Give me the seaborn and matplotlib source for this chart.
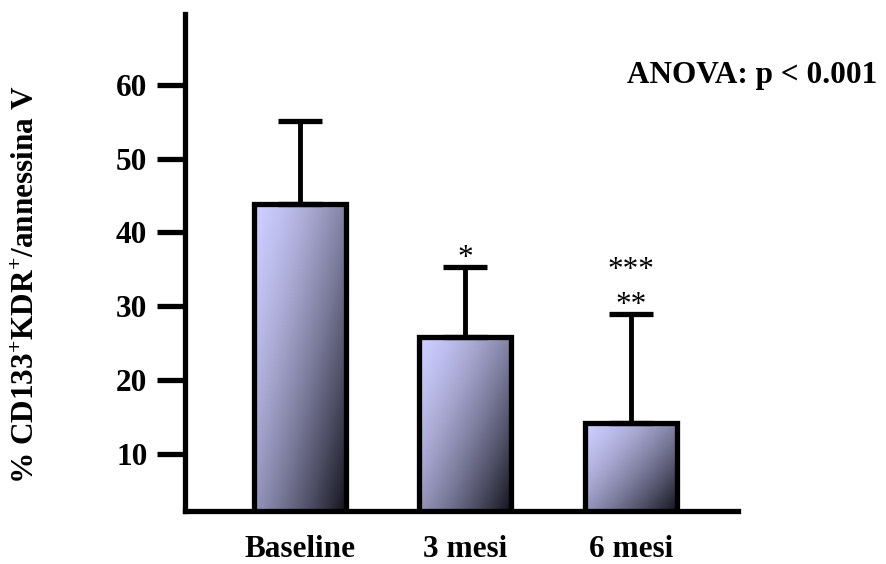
import numpy as np
import pandas as pd
import matplotlib
matplotlib.use("Agg")
import matplotlib.pyplot as plt
import seaborn as sns

# ---- data ----
categories = ["Baseline", "3 mesi", "6 mesi"]
means = [43.8, 25.8, 14.2]
errors_up = [11.3, 9.5, 14.7]
sig_near = ["", "*", "**"]
sig_far = ["", "", "***"]
yticks = [10, 20, 30, 40, 50, 60]
ylabel = "% CD133$^{+}$KDR$^{+}$/annessina V"
anova_text = "ANOVA: p < 0.001"

sns.set_style("white")
plt.rcParams["font.family"] = ["Liberation Serif", "DejaVu Serif"]
plt.rcParams["font.weight"] = "bold"
plt.rcParams["font.size"] = 22.5
plt.rcParams["mathtext.default"] = "regular"
for key in ["text.color", "axes.labelcolor", "xtick.color", "ytick.color",
            "axes.edgecolor"]:
    plt.rcParams[key] = "black"

df = pd.DataFrame({"group": categories, "value": means})

fig = plt.figure(figsize=(8.87, 5.64), dpi=100)
ax = fig.add_axes([185 / 887, 1 - 511 / 564, 553 / 887, 497 / 564])

sns.barplot(data=df, x="group", y="value", ax=ax, color="white",
            edgecolor="black", linewidth=3.8, width=0.556, errorbar=None)

ylim = (2.25, 69.6)
xlim = (-0.695, 2.647)

# gradient fill inside each bar
c0 = np.array([205, 205, 255]) / 255.0
c1 = np.array([18, 18, 28]) / 255.0
H, W = 200, 200
u = np.linspace(0, 1, W)[None, :]
v = np.linspace(0, 1, H)[:, None]
t = np.clip(0.55 * u + 0.45 * v, 0, 1) ** 1.5
grad = c0[None, None, :] + (c1 - c0)[None, None, :] * t[:, :, None]

centers = []
for p in ax.patches:
    p.set_facecolor("none")
    p.set_zorder(3)
    x0 = p.get_x()
    x1 = x0 + p.get_width()
    y0 = max(p.get_y(), ylim[0])
    y1 = p.get_y() + p.get_height()
    centers.append(x0 + p.get_width() / 2)
    im = ax.imshow(grad, extent=[x0, x1, y0, y1], origin="upper",
                   aspect="auto", zorder=2, interpolation="bilinear")
    im.set_clip_path(p)

ax.errorbar(centers, means, yerr=[np.zeros(len(means)), errors_up],
            fmt="none", ecolor="black", elinewidth=3.5, capsize=15.8,
            capthick=3.8, zorder=2.5)

for xc, m, e, s1, s2 in zip(centers, means, errors_up, sig_near, sig_far):
    top = m + e
    if s1:
        ax.annotate(s1, (xc, top), xytext=(0, 1), textcoords="offset points",
                    ha="center", va="baseline", fontweight="normal",
                    fontsize=22.5, color="black")
    if s2:
        ax.annotate(s2, (xc, top), xytext=(0, 26), textcoords="offset points",
                    ha="center", va="baseline", fontweight="normal",
                    fontsize=22.5, color="black")

ax.set_xlim(*xlim)
ax.set_ylim(*ylim)
ax.set_yticks(yticks)
ax.set_yticklabels([str(v) for v in yticks])
ax.set_xlabel("")
ax.set_ylabel("")

for side in ["top", "right"]:
    ax.spines[side].set_visible(False)
for side in ["left", "bottom"]:
    ax.spines[side].set_linewidth(3.8)
    ax.spines[side].set_color("black")
    ax.spines[side].set_capstyle("projecting")

ax.tick_params(axis="y", left=True, direction="out", length=20, width=3.8,
               pad=7, color="black", labelcolor="black", labelsize=22.5)
ax.tick_params(axis="x", bottom=False, length=0, pad=17, labelsize=22.5,
               labelcolor="black")
for lab in ax.get_xticklabels() + ax.get_yticklabels():
    lab.set_fontweight("bold")

fig.text(27 / 887, 1 - 285 / 564, ylabel, rotation=90, ha="center",
         va="center", fontsize=22.5, fontweight="bold", color="black")
fig.text(627 / 887, 1 - 83 / 564, anova_text, ha="left", va="baseline",
         fontsize=22.5, fontweight="bold", color="black")

fig.savefig("out.png", dpi=100)
